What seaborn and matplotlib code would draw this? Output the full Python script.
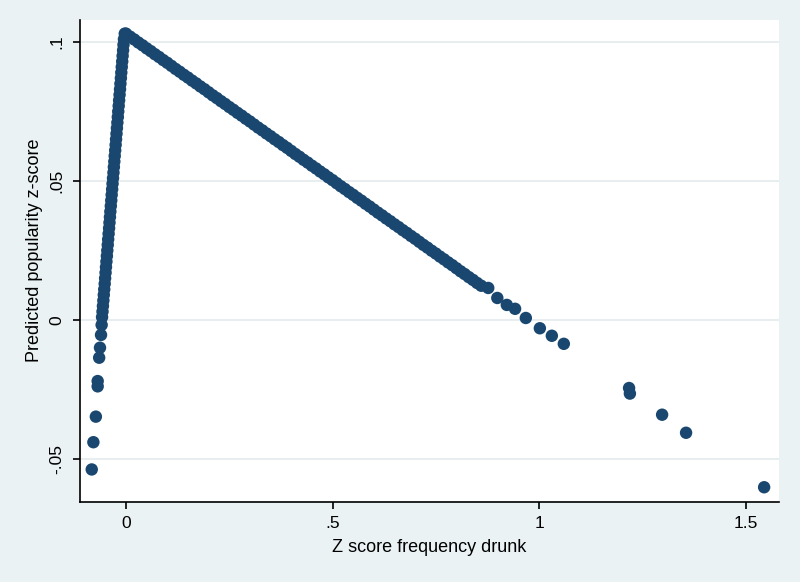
import matplotlib
matplotlib.use("Agg")
import matplotlib.pyplot as plt
import pandas as pd
import seaborn as sns


# Gia tri doc tu hinh: nhanh trai (tang)
rise_x = [-0.083, -0.079, -0.073, -0.0686, -0.0686, -0.065, -0.063, -0.0605, -0.059,
          -0.0580, -0.0569, -0.0559, -0.0548, -0.0538, -0.0527, -0.0516, -0.0506,
          -0.0495, -0.0485, -0.0474, -0.0463, -0.0453, -0.0442, -0.0432, -0.0421,
          -0.0410, -0.0400, -0.0389, -0.0379, -0.0368, -0.0357, -0.0347, -0.0336,
          -0.0326, -0.0315, -0.0304, -0.0294, -0.0283, -0.0273, -0.0262, -0.0251,
          -0.0241, -0.0230, -0.0220, -0.0209, -0.0198, -0.0188, -0.0177, -0.0167,
          -0.0156, -0.0145, -0.0135, -0.0124, -0.0114, -0.0103, -0.0092, -0.0082,
          -0.0071, -0.0061, -0.0050, -0.0030]
rise_y = [-0.0538, -0.0440, -0.0348, -0.0239, -0.0220, -0.0136, -0.0100, -0.0054, -0.0018,
          0.001, 0.003, 0.005, 0.007, 0.009, 0.011, 0.013, 0.015,
          0.017, 0.019, 0.021, 0.023, 0.025, 0.027, 0.029, 0.031,
          0.033, 0.035, 0.037, 0.039, 0.041, 0.043, 0.045, 0.047,
          0.049, 0.051, 0.053, 0.055, 0.057, 0.059, 0.061, 0.063,
          0.065, 0.067, 0.069, 0.071, 0.073, 0.075, 0.077, 0.079,
          0.081, 0.083, 0.085, 0.087, 0.089, 0.091, 0.093, 0.095,
          0.097, 0.099, 0.101, 0.103]

# nhanh phai (giam)
fall_x = [0.00, 0.01, 0.02, 0.03, 0.04, 0.05, 0.06, 0.07, 0.08, 0.09,
          0.10, 0.11, 0.12, 0.13, 0.14, 0.15, 0.16, 0.17, 0.18, 0.19,
          0.20, 0.21, 0.22, 0.23, 0.24, 0.25, 0.26, 0.27, 0.28, 0.29,
          0.30, 0.31, 0.32, 0.33, 0.34, 0.35, 0.36, 0.37, 0.38, 0.39,
          0.40, 0.41, 0.42, 0.43, 0.44, 0.45, 0.46, 0.47, 0.48, 0.49,
          0.50, 0.51, 0.52, 0.53, 0.54, 0.55, 0.56, 0.57, 0.58, 0.59,
          0.60, 0.61, 0.62, 0.63, 0.64, 0.65, 0.66, 0.67, 0.68, 0.69,
          0.70, 0.71, 0.72, 0.73, 0.74, 0.75, 0.76, 0.77, 0.78, 0.79,
          0.80, 0.81, 0.82, 0.83, 0.84, 0.85, 0.86, 0.877,
          0.899, 0.922, 0.942, 0.968, 1.002, 1.031, 1.060,
          1.218, 1.220, 1.298, 1.356, 1.545]
fall_y = [0.1030, 0.1019, 0.1009, 0.0998, 0.0988, 0.0977, 0.0967, 0.0956, 0.0946, 0.0935,
          0.0925, 0.0914, 0.0903, 0.0893, 0.0882, 0.0872, 0.0861, 0.0851, 0.0840, 0.0830,
          0.0819, 0.0808, 0.0798, 0.0787, 0.0777, 0.0766, 0.0756, 0.0745, 0.0735, 0.0724,
          0.0714, 0.0703, 0.0692, 0.0682, 0.0671, 0.0661, 0.0650, 0.0640, 0.0629, 0.0619,
          0.0608, 0.0597, 0.0587, 0.0576, 0.0566, 0.0555, 0.0545, 0.0534, 0.0524, 0.0513,
          0.0503, 0.0492, 0.0481, 0.0471, 0.0460, 0.0450, 0.0439, 0.0429, 0.0418, 0.0408,
          0.0397, 0.0386, 0.0376, 0.0365, 0.0355, 0.0344, 0.0334, 0.0323, 0.0313, 0.0302,
          0.0292, 0.0281, 0.0270, 0.0260, 0.0249, 0.0239, 0.0228, 0.0218, 0.0207, 0.0197,
          0.0186, 0.0175, 0.0165, 0.0154, 0.0144, 0.0133, 0.0123, 0.0115,
          0.0079, 0.0054, 0.0040, 0.0007, -0.0030, -0.0057, -0.0086,
          -0.0245, -0.0265, -0.0341, -0.0406, -0.0602]

x_ticks = [0, 0.5, 1, 1.5]
x_tick_labels = ["0", ".5", "1", "1.5"]
y_ticks = [-0.05, 0, 0.05, 0.1]
y_tick_labels = ["-.05", "0", ".05", ".1"]

BG = "#EAF2F3"
NAVY = "#1A476F"

sns.set_theme(style="white")
plt.rcParams["font.family"] = ["Liberation Sans", "DejaVu Sans"]

df = pd.DataFrame({
    "drunk": rise_x + fall_x,
    "pred": rise_y + fall_y,
})

fig = plt.figure(figsize=(8, 5.82), dpi=100, facecolor=BG)
ax = fig.add_axes([0.1, 0.1375, 0.87375, 0.8281])
ax.set_facecolor("white")

ax.set_xlim(-0.1114, 1.581)
ax.set_ylim(-0.0655, 0.1079)

for yv in y_ticks:
    ax.axhline(yv, color="#E6ECEE", linewidth=1.3, zorder=0)

sns.scatterplot(data=df, x="drunk", y="pred", ax=ax, color=NAVY, s=80,
                linewidth=0, edgecolor="none", zorder=3)

ax.set_xticks(x_ticks)
ax.set_xticklabels(x_tick_labels)
ax.set_yticks(y_ticks)
ax.set_yticklabels(y_tick_labels, rotation=90, va="center")

for side in ["top", "right"]:
    ax.spines[side].set_visible(False)
for side in ["left", "bottom"]:
    ax.spines[side].set_color("black")
    ax.spines[side].set_linewidth(1.2)

ax.tick_params(axis="both", direction="out", length=5, width=1.2, color="black",
               labelsize=12.5, labelcolor="black", bottom=True, left=True)
ax.tick_params(axis="x", pad=5)
ax.tick_params(axis="y", pad=6)

ax.set_xlabel("Z score frequency drunk", fontsize=13, color="black", labelpad=6)
ax.set_ylabel("Predicted popularity z-score", fontsize=13, color="black")
ax.yaxis.set_label_coords(-0.053, 0.523)

fig.savefig("out.png", dpi=100, facecolor=BG)
